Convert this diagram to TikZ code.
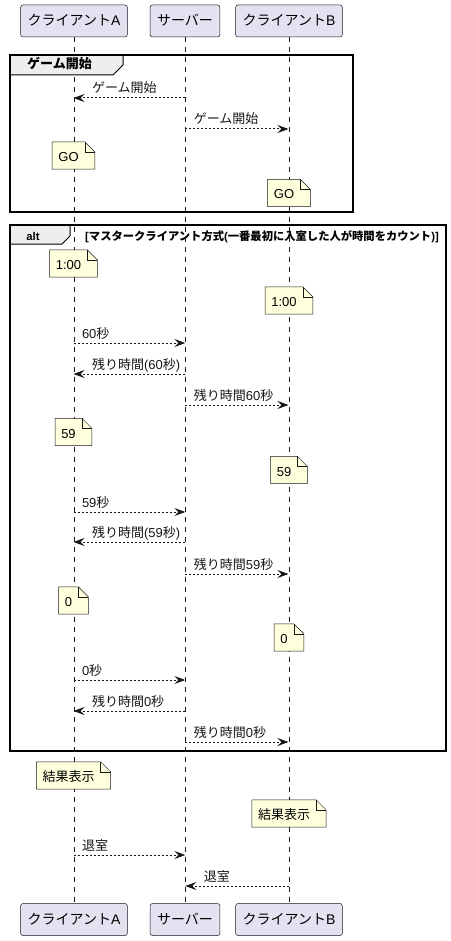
\documentclass[tikz,border=0pt]{standalone}
\usepackage{fontspec}
\setmainfont{Liberation Sans}
\newfontfamily\jafont{Noto Sans CJK JP}
\newcommand{\ja}[1]{{\jafont #1}}
\usetikzlibrary{arrows.meta}
\pgfdeclarelayer{back}
\pgfsetlayers{back,main}
\definecolor{partfill}{HTML}{E2E2F0}
\definecolor{linecol}{HTML}{181818}
\definecolor{notefill}{HTML}{FEFFDD}
\definecolor{tabfill}{HTML}{EEEEEE}
\tikzset{
  part/.style={draw=linecol, line width=0.5pt, fill=partfill, rounded corners=2.5pt,
    minimum height=32pt, inner xsep=7pt, font=\fontsize{14}{16}\selectfont,
    text height=11pt, text depth=1pt},
  lifeline/.style={draw=linecol, line width=0.5pt, dash pattern=on 5pt off 5pt},
  msg/.style={linecol, line width=1pt, dash pattern=on 2pt off 2pt,
    -{Stealth[length=11pt,width=8pt,inset=4pt]}},
  rlbl/.style={pos=0, anchor=south west, xshift=7pt, yshift=1pt, inner sep=1pt,
    font=\fontsize{13}{15}\selectfont, text height=10pt, text depth=2.5pt},
  llbl/.style={pos=1, anchor=south west, xshift=17pt, yshift=1pt, inner sep=1pt,
    font=\fontsize{13}{15}\selectfont, text height=10pt, text depth=2.5pt},
  note/.style={inner xsep=6pt, inner ysep=7.5pt, text height=12pt, text depth=0pt,
    font=\fontsize{13}{15}\selectfont},
  notebg/.style={draw=linecol, line width=0.5pt, fill=notefill},
  frame/.style={draw=black, line width=1.5pt},
  tab/.style={draw=black, line width=1pt, fill=tabfill},
  tabtext/.style={inner sep=1pt, font=\bfseries\fontsize{11.3}{13}\selectfont,
    text height=8.5pt, text depth=2pt},
}
\begin{document}
\begin{tikzpicture}[x=1pt, y=-1pt]
\useasboundingbox (0,0) rectangle (450,941);

\node[part] (cAt) at (74, 21)    {\ja{クライアント}A};
\node[part] (srt) at (185, 21)   {\ja{サーバー}};
\node[part] (cBt) at (289, 21)   {\ja{クライアント}B};
\node[part] (cAb) at (74, 919.5) {\ja{クライアント}A};
\node[part] (srb) at (185, 919.5) {\ja{サーバー}};
\node[part] (cBb) at (289, 919.5) {\ja{クライアント}B};

\foreach \n/\y in {1/98, 2/129, 3/343, 4/374, 5/405, 6/512, 7/542, 8/574,
                   9/680, 10/711, 11/742, 12/855, 13/886} {
  \coordinate (a\n) at (73.5, \y);
  \coordinate (s\n) at (185.3, \y);
  \coordinate (b\n) at (288.5, \y);
}

\draw[tab] (10,55) -- (123,55) -- (123,65) -- (113,75) -- (10,75) -- cycle;
\node[tabtext, anchor=west, font=\bfseries\fontsize{13}{15}\selectfont] (grpT) at (26, 65) {\ja{ゲーム開始}};
\draw[frame] (10,55) rectangle (353,212);

\draw[tab] (10,225) -- (70,225) -- (70,236) -- (62,244) -- (10,244) -- cycle;
\node[tabtext] (altT) at (33, 237.5) {alt};
\node[tabtext, anchor=west] (altC) at (84, 237)
  {[\ja{マスタークライアント方式}(\ja{一番最初に入室した人が時間をカウント})]};
\draw[frame] (10,225) rectangle (446,751);

\node[note] (goA)  at (68.5, 155.5) {GO};
\node[note] (goB)  at (284, 193)    {GO};
\node[note] (oneA) at (68.5, 263.5) {1:00};
\node[note] (oneB) at (284, 300.5)  {1:00};
\node[note] (n59A) at (68.5, 432)   {59};
\node[note] (n59B) at (284, 470)    {59};
\node[note] (n0A)  at (68.5, 600.5) {0};
\node[note] (n0B)  at (284, 637.5)  {0};
\node[note] (resA) at (68.5, 775.5) {\ja{結果表示}};
\node[note] (resB) at (284, 813.5)  {\ja{結果表示}};

\path[msg]
(s1) edge node[llbl] {\ja{ゲーム開始}} (a1)
(s2) edge node[rlbl] {\ja{ゲーム開始}} (b2)
(a3) edge node[rlbl] {60\ja{秒}} (s3)
(s4) edge node[llbl] {\ja{残り時間}(60\ja{秒})} (a4)
(s5) edge node[rlbl] {\ja{残り時間}60\ja{秒}} (b5)
(a6) edge node[rlbl] {59\ja{秒}} (s6)
(s7) edge node[llbl] {\ja{残り時間}(59\ja{秒})} (a7)
(s8) edge node[rlbl] {\ja{残り時間}59\ja{秒}} (b8)
(a9) edge node[rlbl] {0\ja{秒}} (s9)
(s10) edge node[llbl] {\ja{残り時間}0\ja{秒}} (a10)
(s11) edge node[rlbl] {\ja{残り時間}0\ja{秒}} (b11)
(a12) edge node[rlbl] {\ja{退室}} (s12)
(b13) edge node[llbl] {\ja{退室}} (s13)
;

\begin{pgfonlayer}{back}
\draw[lifeline] (cAt) -- (cAb);
\draw[lifeline] (srt) -- (srb);
\draw[lifeline] (cBt) -- (cBb);
\foreach \m in {goA, goB, oneA, oneB, n59A, n59B, n0A, n0B, resA, resB} {
  \draw[notebg] (\m.north west) -- (\m.north east)
    -- ([xshift=10pt, yshift=-10pt]\m.north east) -- ([xshift=10pt]\m.south east)
    -- (\m.south west) -- cycle;
  \draw[notebg, fill=none] (\m.north east) -- ([yshift=-10pt]\m.north east)
    -- ([xshift=10pt, yshift=-10pt]\m.north east);
}
\end{pgfonlayer}
\end{tikzpicture}
\end{document}
